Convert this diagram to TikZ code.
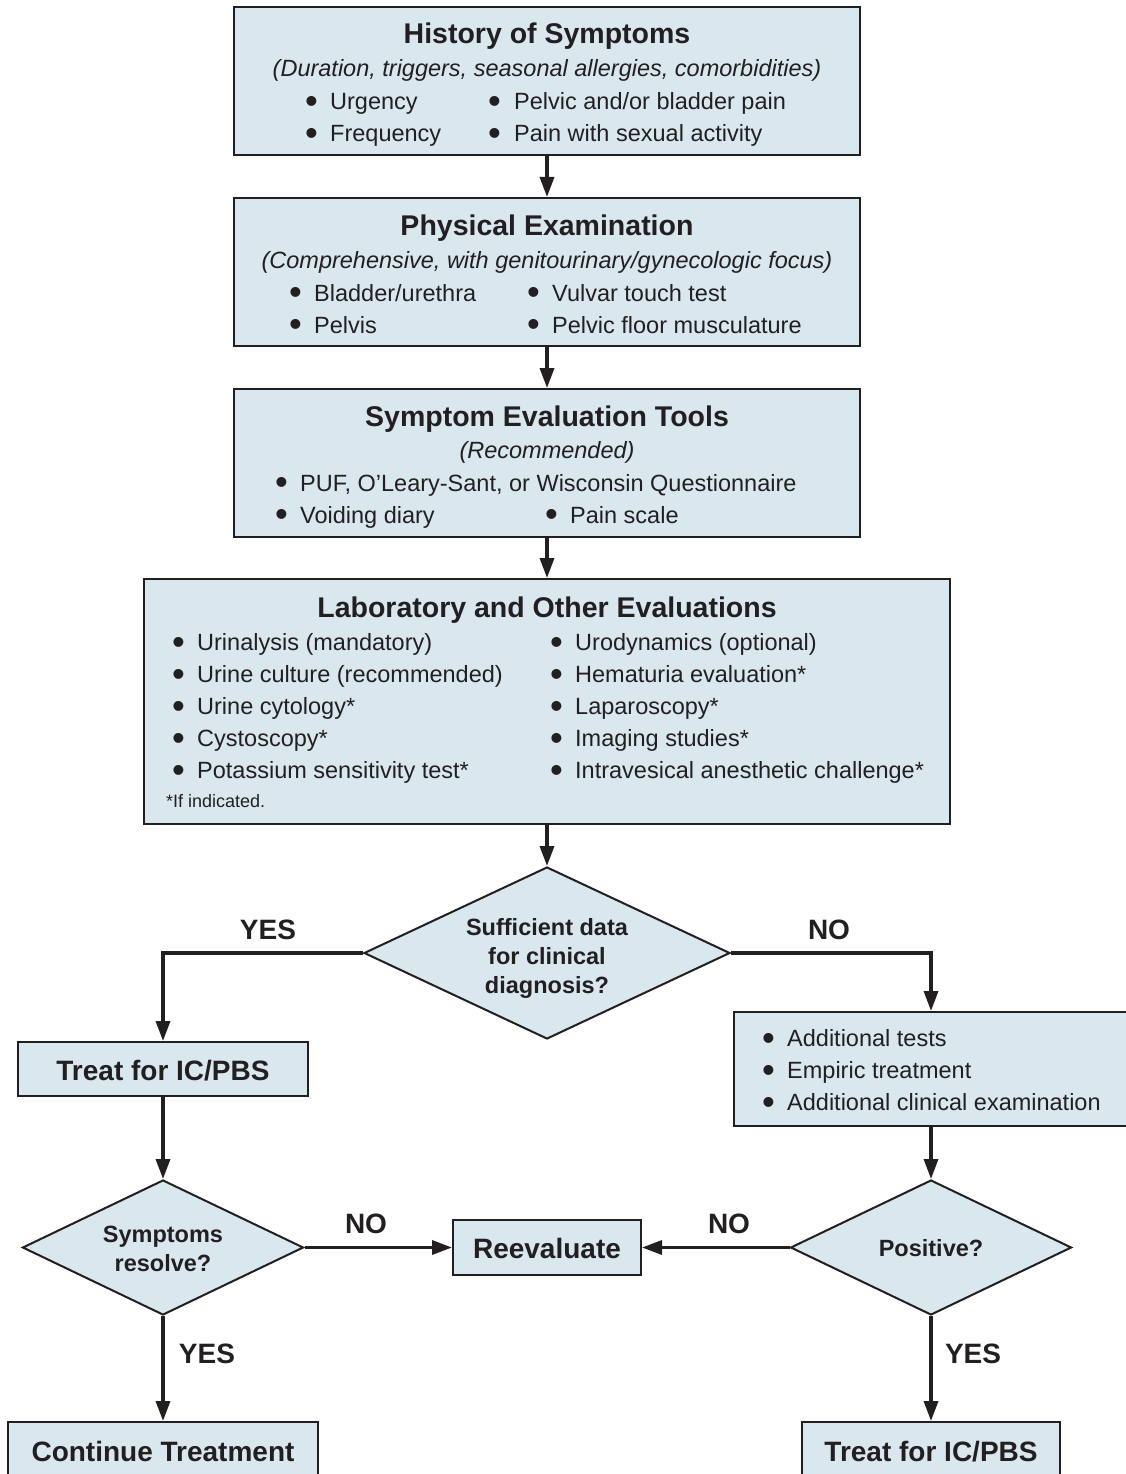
\documentclass[tikz,border=0pt]{standalone}
\usepackage{fontspec}
\setmainfont{Liberation Sans}
\usetikzlibrary{shapes.geometric,arrows.meta}
\definecolor{boxfill}{HTML}{D9E7EF}
\definecolor{ink}{HTML}{231F20}
\newcommand{\bigbul}{\raisebox{-0.17em}{\scalebox{1.55}{\textbullet}}}
\newcommand{\bl}[5]{\node[body] (#1) at (#2-6,#4) {\makebox[\dimexpr #3pt-#2pt+6pt\relax][l]{\bigbul}#5};}
\begin{document}
\begin{tikzpicture}[x=1pt,y=-1pt,
  box/.style={draw=ink, fill=boxfill, line width=2pt, inner sep=0pt, rectangle},
  dia/.style={draw=ink, fill=boxfill, line width=2pt, diamond, inner sep=0pt},
  arr/.style={draw=ink, line width=3.4pt, -{Triangle[length=20pt,width=14pt]}},
  body/.style={font=\fontsize{23.5}{28}\selectfont, text=ink, inner sep=0pt, anchor=base west},
  ital/.style={font=\fontsize{23.5}{28}\selectfont\itshape, text=ink, inner sep=0pt, anchor=base},
  ttl/.style={font=\fontsize{28.5}{34}\selectfont\bfseries, text=ink, inner sep=0pt, anchor=base},
  dtxt/.style={font=\fontsize{23.5}{28}\selectfont\bfseries, text=ink, inner sep=0pt, anchor=base},
  lab/.style={font=\fontsize{28}{34}\selectfont\bfseries, text=ink, inner sep=0pt, anchor=base},
  foot/.style={font=\fontsize{18}{22}\selectfont, text=ink, inner sep=0pt, anchor=base west}]
\useasboundingbox (0,0) rectangle (1126,1474);
% boxes
\node[box, minimum width=626pt, minimum height=148pt] (b1) at (547,81) {};
\node[box, minimum width=626pt, minimum height=148pt] (b2) at (547,272) {};
\node[box, minimum width=626pt, minimum height=148pt] (b3) at (547,463) {};
\node[box, minimum width=806pt, minimum height=245pt] (b4) at (547,701.5) {};
\node[dia, minimum width=366pt, minimum height=172pt] (d1) at (547,953) {};
\node[box, minimum width=290pt, minimum height=54pt] (t1) at (163,1069) {};
\node[box, minimum width=394pt, minimum height=114pt] (add) at (931,1069) {};
\node[dia, minimum width=281pt, minimum height=135pt] (d2) at (163,1247.5) {};
\node[dia, minimum width=281pt, minimum height=135pt] (d3) at (931,1247.5) {};
\node[box, minimum width=188pt, minimum height=55pt] (re) at (547,1247.5) {};
\node[box, minimum width=310pt, minimum height=68pt] (ct) at (163,1456) {};
\node[box, minimum width=258pt, minimum height=68pt] (t2) at (931,1456) {};
% box 1
\node[ttl] (h1) at (547,44) {History of Symptoms};
\node[ital] (h1s) at (547,77) {(Duration, triggers, seasonal allergies, comorbidities)};
\bl{h1a}{311}{330}{110}{Urgency}
\bl{h1b}{494}{514}{110}{Pelvic and/or bladder pain}
\bl{h1c}{311}{330}{142}{Frequency}
\bl{h1d}{494}{514}{142}{Pain with sexual activity}
% box 2
\node[ttl] (h2) at (547,235) {Physical Examination};
\node[ital] (h2s) at (547,268) {(Comprehensive, with genitourinary/gynecologic focus)};
\bl{h2a}{295}{314}{301}{Bladder/urethra}
\bl{h2b}{533}{552}{301}{Vulvar touch test}
\bl{h2c}{295}{314}{333}{Pelvis}
\bl{h2d}{533}{552}{333}{Pelvic floor musculature}
% box 3
\node[ttl] (h3) at (547,426) {Symptom Evaluation Tools};
\node[ital] (h3s) at (547,458) {(Recommended)};
\bl{h3a}{281}{300}{491}{PUF, O’Leary-Sant, or Wisconsin Questionnaire}
\bl{h3b}{281}{300}{523}{Voiding diary}
\bl{h3c}{551}{570}{523}{Pain scale}
% box 4
\node[ttl] (h4) at (547,617) {Laboratory and Other Evaluations};
\bl{h4a}{178}{197}{650}{Urinalysis (mandatory)}
\bl{h4b}{178}{197}{682}{Urine culture (recommended)}
\bl{h4c}{178}{197}{714}{Urine cytology*}
\bl{h4d}{178}{197}{746}{Cystoscopy*}
\bl{h4e}{178}{197}{778}{Potassium sensitivity test*}
\bl{h4f}{556}{575}{650}{Urodynamics (optional)}
\bl{h4g}{556}{575}{682}{Hematuria evaluation*}
\bl{h4h}{556}{575}{714}{Laparoscopy*}
\bl{h4i}{556}{575}{746}{Imaging studies*}
\bl{h4j}{556}{575}{778}{Intravesical anesthetic challenge*}
\node[foot] (h4k) at (166,807) {*If indicated.};
% decision 1
\node[dtxt] (d1a) at (547,935) {Sufficient data};
\node[dtxt] (d1b) at (547,964) {for clinical};
\node[dtxt] (d1c) at (547,993) {diagnosis?};
% additional
\bl{ada}{768}{787}{1046}{Additional tests}
\bl{adb}{768}{787}{1078}{Empiric treatment}
\bl{adc}{768}{787}{1110}{Additional clinical examination}
% other texts
\node[lab] (t1t) at (163,1080) {Treat for IC/PBS};
\node[dtxt] (d2a) at (163,1242) {Symptoms};
\node[dtxt] (d2b) at (163,1271) {resolve?};
\node[lab] (ret) at (547,1258) {Reevaluate};
\node[dtxt] (d3a) at (931,1256) {Positive?};
\node[lab] (ctt) at (163,1461) {Continue Treatment};
\node[lab] (t2t) at (931,1461) {Treat for IC/PBS};
% labels
\node[lab] (l1) at (268,939) {YES};
\node[lab] (l2) at (829,939) {NO};
\node[lab] (l3) at (366,1233) {NO};
\node[lab] (l4) at (729,1233) {NO};
\node[lab] (l5) at (207,1363) {YES};
\node[lab] (l6) at (973,1363) {YES};
% connectors
\draw[arr] (b1.south) -- (b2.north);
\draw[arr] (b2.south) -- (b3.north);
\draw[arr] (b3.south) -- (b4.north);
\draw[arr] (b4.south) -- (d1.north);
\draw[arr] (d1.west) -| (t1.north);
\draw[arr] (d1.east) -| (add.north);
\draw[arr] (t1.south) -- (d2.north);
\draw[arr] (add.south) -- (d3.north);
\draw[arr] (d2.east) -- (re.west);
\draw[arr] (d3.west) -- (re.east);
\draw[arr] (d2.south) -- (ct.north);
\draw[arr] (d3.south) -- (t2.north);
\end{tikzpicture}
\end{document}
